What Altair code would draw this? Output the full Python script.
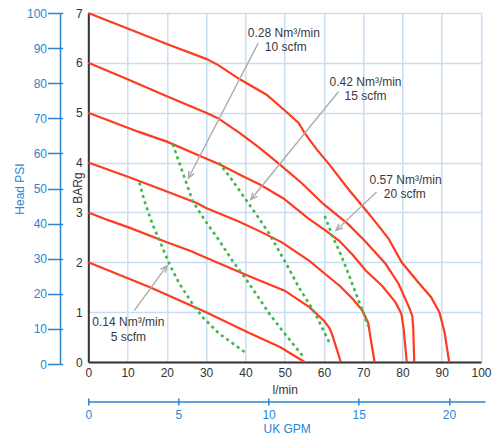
import math
import altair as alt
import pandas as pd

FONT = "Liberation Sans"
RED = "#ff3b1f"
GREEN = "#3fb54b"
BLUE = "#2a86d1"
GRID = "#c9def2"
DARK = "#333333"
GRAY = "#a9a9a9"

W = 392.7
H = 349.0

# ---- pump curves: flow (l/min) vs head (BARg) ----
curve_names = ["7 bar", "6 bar", "5 bar", "4 bar", "3 bar", "2 bar"]
c7_flow = [0, 10, 20, 30, 33, 38.6, 45.4, 50.1, 53.5, 55.2, 58.2, 61.1, 66.6, 69.8, 73.2, 76.5, 79.8, 84.0, 87.3, 89.4, 90.7, 91.9]
c7_bar = [7.0, 6.69, 6.38, 6.08, 5.96, 5.67, 5.36, 5.04, 4.8, 4.58, 4.26, 3.99, 3.43, 3.13, 2.8, 2.47, 2.0, 1.6, 1.3, 1.0, 0.6, 0.0]
c6_flow = [0, 10, 20, 30, 33, 38.6, 43.7, 48.8, 54.3, 60, 66.1, 70.5, 75.7, 79.0, 81.5, 82.5, 82.75, 83.0]
c6_bar = [6.0, 5.67, 5.33, 5.0, 4.89, 4.59, 4.29, 3.96, 3.59, 3.16, 2.77, 2.42, 1.97, 1.57, 1.13, 0.93, 0.67, 0.0]
c5_flow = [0, 12.7, 20, 27.6, 33.5, 40, 43.7, 49.7, 56, 60, 63.9, 67.3, 70.7, 74.8, 78.2, 79.7, 80.3, 81.1]
c5_bar = [5.0, 4.62, 4.42, 4.16, 3.96, 3.7, 3.56, 3.28, 2.88, 2.66, 2.43, 2.15, 1.83, 1.53, 1.2, 0.97, 0.67, 0.0]
c4_flow = [0, 10.6, 20, 27.6, 30, 38.3, 43.7, 49.3, 56.3, 62.1, 64, 67.3, 69.8, 71.3, 71.9, 72.9]
c4_bar = [4.0, 3.7, 3.42, 3.19, 3.09, 2.82, 2.62, 2.4, 2.03, 1.65, 1.53, 1.27, 1.03, 0.78, 0.47, 0.0]
c3_flow = [0, 5.6, 10.6, 20, 25.9, 30, 41, 50, 56.3, 60, 61.5, 62.1, 64.3]
c3_bar = [3.0, 2.83, 2.69, 2.4, 2.23, 2.09, 1.72, 1.43, 1.1, 0.83, 0.67, 0.55, 0.0]
c2_flow = [0, 15.7, 30, 41, 48.8, 55.1]
c2_bar = [2.0, 1.5, 1.0, 0.58, 0.3, 0.0]

# ---- air consumption lines ----
air_names = ["5 scfm", "10 scfm", "15 scfm", "20 scfm"]
g5_flow = [13.0, 14.3, 16.3, 18.6, 20.6, 23.2, 26.5, 29.1, 33.3, 39.8]
g5_bar = [3.6, 3.23, 2.77, 2.35, 1.97, 1.57, 1.17, 0.9, 0.57, 0.2]
g10_flow = [21.5, 24.4, 26.6, 29.8, 33.4, 36.7, 40, 43.3, 46, 49.4, 54.5]
g10_bar = [4.37, 3.72, 3.22, 2.83, 2.43, 2.03, 1.68, 1.3, 0.98, 0.63, 0.13]
g15_flow = [33.2, 35.9, 40, 43.3, 46.1, 50.2, 53.6, 57.8, 61.5]
g15_bar = [4.0, 3.73, 3.27, 2.9, 2.57, 2.0, 1.5, 0.97, 0.37]
g20_flow = [60.2, 62.3, 63.9, 65.6, 67.2, 68.5, 70, 71.2]
g20_bar = [2.93, 2.5, 2.23, 1.9, 1.57, 1.3, 1.0, 0.72]

# ---- annotations ----
note_text = ["0.28 Nm³/min", "10 scfm", "0.42 Nm³/min", "15 scfm",
             "0.57 Nm³/min", "20 scfm", "0.14 Nm³/min", "5 scfm"]
note_flow = [49.8, 50.3, 70.6, 70.6, 80.8, 80.6, 10.2, 10.2]
note_bar = [6.60, 6.32, 5.62, 5.34, 3.65, 3.37, 0.80, 0.50]
arrow_flow_from = [43.3, 63.7, 73.4, 11.7]
arrow_bar_from = [6.40, 5.42, 3.41, 1.03]
arrow_flow_to = [25.5, 41.4, 63.1, 20.0]
arrow_bar_to = [3.69, 3.26, 2.64, 1.93]

# ---- axis ticks ----
flow_ticks = list(range(0, 101, 10))
bar_ticks = list(range(0, 8))
psi_ticks = list(range(0, 101, 10))
gpm_ticks = [0, 5, 10, 15, 20]


def frame(names, flows, bars):
    rows = []
    for n, fx, by in zip(names, flows, bars):
        for i, (a, b) in enumerate(zip(fx, by)):
            rows.append({"curve": n, "flow": a, "bar": b, "ord": i})
    return pd.DataFrame(rows)


red_df = frame(curve_names,
               [c7_flow, c6_flow, c5_flow, c4_flow, c3_flow, c2_flow],
               [c7_bar, c6_bar, c5_bar, c4_bar, c3_bar, c2_bar])
green_df = frame(air_names, [g5_flow, g10_flow, g15_flow, g20_flow],
                 [g5_bar, g10_bar, g15_bar, g20_bar])
note_df = pd.DataFrame({"label": note_text, "flow": note_flow, "bar": note_bar})

angles = []
for x1, y1, x2, y2 in zip(arrow_flow_from, arrow_bar_from, arrow_flow_to, arrow_bar_to):
    sx = (x2 - x1) * W / 100.0
    sy = -(y2 - y1) * H / 7.0
    angles.append(math.degrees(math.atan2(sx, -sy)) % 360)
arrow_df = pd.DataFrame({"flow": arrow_flow_from, "bar": arrow_bar_from,
                         "flow2": arrow_flow_to, "bar2": arrow_bar_to, "ang": angles})

xs_main = alt.Scale(domain=[0, 100], nice=False)
ys_main = alt.Scale(domain=[0, 7], nice=False)
x_axis = alt.Axis(values=flow_ticks, title="l/min", grid=True, gridColor=GRID, gridWidth=1.5,
                  domainColor=DARK, domainWidth=2, ticks=False, labelPadding=5,
                  labelColor=DARK, titleColor=DARK, labelFlush=False, titlePadding=6)
y_axis = alt.Axis(values=bar_ticks, title="BARg", grid=True, gridColor=GRID, gridWidth=1.5,
                  domainColor=DARK, domainWidth=2, ticks=False, labelPadding=6,
                  labelColor=DARK, titleColor=DARK, titleX=-11, titleBaseline="middle",
                  titleAlign="center", titleAngle=270)

X = alt.X("flow:Q", scale=xs_main, axis=x_axis)
Y = alt.Y("bar:Q", scale=ys_main, axis=y_axis)

red = alt.Chart(red_df).mark_line(color=RED, strokeWidth=2.2).encode(
    x=X, y=Y, detail="curve:N", order="ord:Q")
green = alt.Chart(green_df).mark_line(color=GREEN, strokeWidth=2.6, strokeDash=[3, 3.5]).encode(
    x=X, y=Y, detail="curve:N", order="ord:Q")
arrows = alt.Chart(arrow_df).mark_rule(color=GRAY, strokeWidth=1.3).encode(
    x=X, y=Y, x2="flow2:Q", y2="bar2:Q")
CHEVRON = "M -0.45 1 L 0 0 L 0.45 1"
heads = alt.Chart(arrow_df).mark_point(shape=CHEVRON, filled=False, size=170, strokeWidth=1.4,
                                       color=GRAY, opacity=1).encode(
    x=alt.X("flow2:Q", scale=xs_main, axis=x_axis),
    y=alt.Y("bar2:Q", scale=ys_main, axis=y_axis),
    angle=alt.Angle("ang:Q", scale=None))
notes = alt.Chart(note_df).mark_text(font=FONT, fontSize=12, color="#3a3a3a").encode(
    x=X, y=Y, text="label:N")

main = alt.layer(red, green, arrows, heads, notes)

psi_df = pd.DataFrame({"psi": psi_ticks})
psi_scale = alt.Scale(domain=[0, 100], range=[H + 2, 0], nice=False)
psiA = alt.Chart(psi_df).mark_point(opacity=0).encode(
    x=alt.value(0),
    y=alt.Y("psi:Q", scale=psi_scale,
            axis=alt.Axis(orient="left", offset=28.3, values=psi_ticks, title="Head PSI",
                          grid=False, domainColor=BLUE, domainWidth=1.5, tickColor=BLUE,
                          tickWidth=1.5, tickSize=12.5, labelColor=BLUE, labelPadding=1,
                          titleColor=BLUE, titlePadding=0)))
psiB = alt.Chart(psi_df).mark_point(opacity=0).encode(
    x=alt.value(0),
    y=alt.Y("psi:Q", scale=psi_scale,
            axis=alt.Axis(orient="left", offset=25.6, values=psi_ticks, title=None,
                          grid=False, domain=False, labels=False, tickColor=BLUE,
                          tickWidth=1.5, tickSize=2.7)))

gpm_df = pd.DataFrame({"gpm": gpm_ticks})
gpm_scale = alt.Scale(domain=[0, 22], range=[0, W + 4], nice=False)
gpmA = alt.Chart(gpm_df).mark_point(opacity=0).encode(
    y=alt.value(0),
    x=alt.X("gpm:Q", scale=gpm_scale,
            axis=alt.Axis(orient="bottom", offset=39.5, values=gpm_ticks, title="UK GPM",
                          grid=False, domainColor=BLUE, domainWidth=1.5, tickColor=BLUE,
                          tickWidth=1.5, tickSize=3.5, labelColor=BLUE, labelPadding=4,
                          labelFlush=False, titleColor=BLUE, titlePadding=3)))
gpmB = alt.Chart(gpm_df).mark_point(opacity=0).encode(
    y=alt.value(0),
    x=alt.X("gpm:Q", scale=gpm_scale,
            axis=alt.Axis(orient="bottom", offset=36.0, values=gpm_ticks, title=None,
                          grid=False, domain=False, labels=False, tickColor=BLUE,
                          tickWidth=1.5, tickSize=3.5)))

chart = alt.layer(main, psiA, psiB, gpmA, gpmB).resolve_scale(
    x="independent", y="independent"
).properties(
    width=W, height=H,
    padding={"left": 80.3, "top": 5, "right": 14, "bottom": 73},
    autosize=alt.AutoSizeParams(type="none"),
).configure_view(stroke=None).configure_axis(
    labelFont=FONT, titleFont=FONT, labelFontSize=12, titleFontSize=12,
    titleFontWeight="normal"
)

chart.save("out.html", embed_options={"renderer": "svg", "actions": False})
